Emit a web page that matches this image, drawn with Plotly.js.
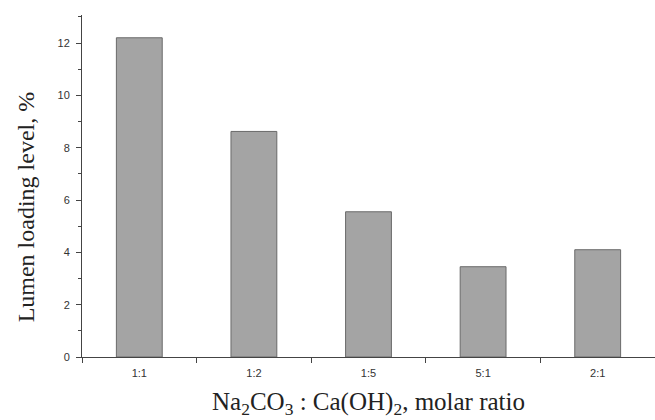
<!DOCTYPE html>
<html>
<head>
<meta charset="utf-8">
<script src="https://cdn.plot.ly/plotly-3.0.1.min.js"></script>
<style>html,body{margin:0;padding:0;background:#fff;}#chart{width:655px;height:420px;}</style>
</head>
<body>
<div id="chart"></div>
<script>
const categories = ["1:1", "1:2", "1:5", "5:1", "2:1"];
const tickLabels = ["1:1", "1:2", "1:5", "5:1", "2:1"];
const loading = [12.2, 8.62, 5.55, 3.45, 4.1];

const trace = {
  type: "bar",
  x: categories,
  y: loading,
  width: 0.4,
  marker: {color: "#a4a4a4", line: {color: "#6a6a6a", width: 1}},
  hoverinfo: "skip"
};

const serif = "Liberation Serif, Times New Roman, serif";

const layout = {
  width: 655, height: 420,
  margin: {l: 82, r: 0, t: 15, b: 63},
  paper_bgcolor: "#fff", plot_bgcolor: "#fff",
  showlegend: false,
  font: {family: "Liberation Sans, Arial, sans-serif", color: "#333"},
  xaxis: {
    type: "category",
    tickvals: categories, ticktext: tickLabels,
    range: [-0.5, 4.5],
    showline: true, linecolor: "#444", linewidth: 1,
    showgrid: false, zeroline: false,
    ticks: "outside", tickson: "boundaries", ticklen: 5, tickcolor: "#444",
    tickfont: {size: 11, color: "#333"},
    ticklabelstandoff: 6
  },
  yaxis: {
    range: [0, 13.07],
    tickvals: [0, 2, 4, 6, 8, 10, 12],
    showline: true, linecolor: "#444", linewidth: 1,
    showgrid: false, zeroline: false,
    ticks: "outside", ticklen: 5, tickcolor: "#444",
    minor: {tickvals: [1, 3, 5, 7, 9, 11, 13], ticks: "outside", ticklen: 3, tickcolor: "#444"},
    tickfont: {size: 11, color: "#333"},
    ticklabelstandoff: 4
  },
  annotations: [{
    text: "Lumen loading level, %",
    xref: "paper", yref: "paper",
    x: -0.098, y: 0.44, xanchor: "center", yanchor: "middle",
    textangle: -90, showarrow: false,
    font: {family: serif, size: 24, color: "#222"}
  }, {
    text: "Na<sub>2</sub>CO<sub>3</sub> : Ca(OH)<sub>2</sub>, molar ratio",
    xref: "paper", yref: "paper",
    x: 0.5, y: -0.137, xanchor: "center", yanchor: "middle",
    showarrow: false,
    font: {family: serif, size: 25, color: "#222"}
  }]
};

Plotly.newPlot("chart", [trace], layout, {displayModeBar: false, staticPlot: true});
</script>
</body>
</html>
